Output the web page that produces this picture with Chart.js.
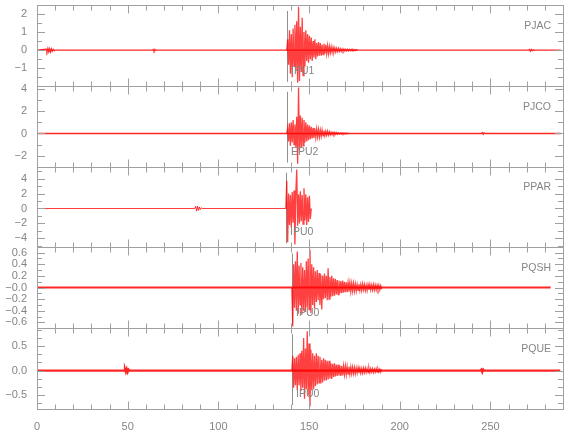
<!DOCTYPE html>
<html>
<head>
<meta charset="utf-8">
<script src="https://cdn.jsdelivr.net/npm/chart.js@4.4.1/dist/chart.umd.min.js"></script>
<style>
  body { margin: 0; background: #fff; }
</style>
</head>
<body>
<canvas id="sismograma" width="580" height="440"></canvas>
<script>
// estações e fases marcadas
const estacoes = ["PJAC", "PJCO", "PPAR", "PQSH", "PQUE"];
const fases = ["IPU1", "EPU2", "IPU0", "IPU0", "IPU0"];
const tempoFase = [137.7, 137.7, 137.2, 140.5, 140.5];

// limites e marcas dos eixos
const xTicks = [0, 50, 100, 150, 200, 250];
const yMin = [-1.97, -2.95, -5.2, -0.7, -0.78];
const yMax = [2.5, 4.25, 5.6, 0.69, 0.86];
const yTicks = [
    [-1, 0, 1, 2],
    [-2, 0, 2, 4],
    [-4, -2, 0, 2, 4],
    [-0.6, -0.4, -0.2, 0, 0.2, 0.4, 0.6],
    [-0.5, 0, 0.5]
];
const yRotulos = [
    ["\u22121", "0", "1", "2"],
    ["\u22122", "0", "2", "4"],
    ["\u22124", "\u22122", "0", "2", "4"],
    ["\u22120.6", "\u22120.4", "\u22120.2", "\u22120.0", "0.2", "0.4", "0.6"],
    ["\u22120.5", "0.0", "0.5"]
];

// trechos calmos (tempo, amplitude)
const pjacCalmoT = [0, 5, 5.5, 6, 6.5, 7, 7.5, 8, 8.5, 9, 9.5, 10, 63.5, 64, 64.5, 65, 65.5, 66, 271, 271.5, 272, 272.5, 273, 273.5, 274, 288.8];
const pjacCalmoV = [0, 0.05, -0.08, 0.1, -0.09, 0.08, -0.1, 0.07, -0.05, 0.04, -0.03, 0, 0, 0.04, -0.05, 0.04, -0.02, 0, 0, 0.04, -0.05, 0.04, -0.03, 0.02, 0, 0];
const pjcoCalmoT = [0, 245, 245.5, 246, 246.5, 247, 288.8];
const pjcoCalmoV = [0, 0, 0.08, -0.07, 0.05, 0, 0];
const pparCalmoT = [0, 87, 87.5, 88, 88.5, 89, 89.5, 90, 90.5, 91, 137.2];
const pparCalmoV = [0, 0, 0.3, -0.35, 0.3, -0.25, 0.2, -0.15, 0.1, 0, 0];
const pqshCalmoT = [0, 283.2];
const pqshCalmoV = [0, 0];
const pqueCalmoT = [0, 48, 48.5, 49, 49.5, 50, 50.5, 51, 244.5, 245, 245.5, 246, 246.5, 288.5];
const pqueCalmoV = [0, 0, 0.03, -0.03, 0.03, -0.03, 0.02, 0, 0, 0.02, -0.03, 0.02, 0, 0];

// evento: amostras a cada 0.5 s a partir da fase
const dtEvento = 0.5;
const pjacEvento = [0.0, 0.6, -0.8, 1.1, -1.3, 0.9, -1.5, 1.2, -0.9, 1.4,
    -1.1, 1.6, -1.8, 2.4, -1.7, 1.3, -1.2, 1.8, -1.4, 1.0,
    -0.9, 1.1, -0.6, 0.9, -0.7, 0.8, -0.5, 0.7, -0.6, 0.5,
    -0.4, 0.6, -0.5, 0.4, -0.35, 0.45, -0.3, 0.4, -0.3, 0.3,
    -0.25, 0.35, -0.2, 0.3, -0.2, 0.25, -0.18, 0.2, -0.15, 0.18,
    -0.12, 0.15, -0.1, 0.12, -0.1, 0.1, -0.08, 0.1, -0.07, 0.08,
    -0.06, 0.07, -0.05, 0.06, -0.05, 0.05, -0.04, 0.05, -0.04, 0.04,
    -0.03, 0.04, -0.03, 0.03, -0.02, 0.03, -0.02, 0.02, 0.0];
const pjcoEvento = [0.0, 0.5, -0.7, 0.9, -1.1, 1.0, -0.8, 1.2, -1.0, 0.8,
    -1.2, 1.5, -2.7, 4.1, -1.5, 1.6, -1.3, 1.4, -1.1, 1.2,
    -0.8, 1.0, -0.7, 0.8, -0.6, 0.7, -0.5, 0.6, -0.45, 0.5,
    -0.4, 0.45, -0.35, 0.4, -0.3, 0.35, -0.3, 0.3, -0.25, 0.3,
    -0.2, 0.25, -0.2, 0.2, -0.15, 0.2, -0.15, 0.15, -0.12, 0.12,
    -0.1, 0.1, -0.08, 0.1, -0.07, 0.08, -0.06, 0.06, -0.05, 0.05,
    -0.04, 0.05, -0.04, 0.04, -0.03, 0.03, -0.02, 0.02, 0.0];
const pparEvento = [0.0, 3.7, -4.5, 2.0, -2.2, 1.8, -2.5, 2.2, -1.9, 2.4,
    -4.8, 2.1, 5.2, -2.3, 1.9, -2.0, 2.3, -1.7, 1.8, -2.1,
    2.7, -1.6, 1.9, -2.2, 1.5, -1.8, 1.7, -1.4, 0.0];
const pqshEvento = [0.0, -0.67, 0.4, -0.35, 0.45, -0.4, 0.62, -0.45, 0.38, -0.3,
    0.42, -0.47, 0.35, -0.4, 0.3, -0.42, 0.45, -0.35, 0.5, -0.38,
    0.65, -0.44, 0.4, -0.3, 0.35, -0.36, 0.28, -0.25, 0.3, -0.22,
    0.25, -0.3, 0.22, -0.38, 0.2, -0.2, 0.24, -0.18, 0.2, -0.22,
    0.33, -0.2, 0.18, -0.16, 0.2, -0.15, 0.16, -0.14, 0.15, -0.12,
    0.13, -0.12, 0.12, -0.1, 0.11, -0.1, 0.12, -0.09, 0.1, -0.08,
    0.09, -0.08, 0.08, -0.07, 0.08, -0.07, 0.07, -0.06, 0.07, -0.06,
    0.06, -0.06, 0.05, -0.05, 0.06, -0.05, 0.05, -0.05, 0.06, -0.04,
    0.05, -0.05, 0.04, -0.05, 0.05, -0.04, 0.05, -0.04, 0.04, -0.04,
    0.05, -0.04, 0.04, -0.04, 0.04, -0.03, 0.04, -0.04, 0.03, -0.03];
const pqueEvento = [0.0, 0.3, -0.35, 0.25, -0.3, 0.28, -0.4, 0.32, -0.3, 0.35,
    -0.42, 0.4, -0.35, 0.66, -0.57, 0.45, -0.38, 0.8, -0.5, 0.55,
    -0.73, 0.42, -0.4, 0.35, -0.38, 0.3, -0.32, 0.35, -0.28, 0.3,
    -0.25, 0.28, -0.26, 0.22, -0.24, 0.25, -0.2, 0.22, -0.2, 0.2,
    -0.18, 0.2, -0.16, 0.15, -0.17, 0.14, -0.13, 0.15, -0.12, 0.12,
    -0.11, 0.12, -0.1, 0.1, -0.11, 0.09, -0.1, 0.09, -0.08, 0.09,
    -0.08, 0.08, -0.07, 0.08, -0.07, 0.07, -0.06, 0.07, -0.06, 0.06,
    -0.06, 0.05, -0.05, 0.06, -0.05, 0.05, -0.05, 0.04, -0.05, 0.05,
    -0.04, 0.05, -0.04, 0.04, -0.04, 0.05, -0.04, 0.04, -0.03, 0.04,
    -0.04, 0.03, -0.03, 0.04, -0.03, 0.03, -0.03, 0.03, -0.03, 0.03];

const calmoT = [pjacCalmoT, pjcoCalmoT, pparCalmoT, pqshCalmoT, pqueCalmoT];
const calmoV = [pjacCalmoV, pjcoCalmoV, pparCalmoV, pqshCalmoV, pqueCalmoV];
const eventos = [pjacEvento, pjcoEvento, pparEvento, pqshEvento, pqueEvento];

// estilo
const familia = "'Liberation Sans', Arial, sans-serif";
const fonte = "10.5px " + familia;
const corTexto = "#858585";
const corEixo = "#a0a0a0";
const espessuraCalmo = [1.3, 1.3, 0.9, 2.2, 2.2];
const passoMenor = [0.5, 1, 1, 0.1, 0.5 / 3];

const conjuntos = [];
estacoes.forEach((nome, i) => {
    conjuntos.push({
        label: nome + " calmo",
        data: calmoT[i].map((t, k) => ({ x: t, y: calmoV[i][k] })),
        yAxisID: "y" + i,
        borderColor: "rgba(255, 0, 0, 0.85)",
        borderWidth: espessuraCalmo[i],
        pointRadius: 0,
        tension: 0
    });
    conjuntos.push({
        label: nome,
        data: eventos[i].map((v, k) => ({ x: tempoFase[i] + k * dtEvento, y: v })),
        yAxisID: "y" + i,
        borderColor: "rgba(255, 0, 0, 0.75)",
        borderWidth: 1.3,
        pointRadius: 0,
        tension: 0
    });
});

const escalas = {
    x: {
        type: "linear",
        min: 0,
        max: 290,
        afterBuildTicks: s => { s.ticks = xTicks.map(v => ({ value: v })); },
        afterFit: s => { s.height = 31; s.paddingLeft = 0; s.paddingRight = 0; },
        grid: { display: false },
        border: { display: false },
        ticks: { color: corTexto, font: { family: familia, size: 11 }, padding: 3, maxRotation: 0, autoSkip: false }
    }
};
// a última escala definida fica no topo da pilha
for (let i = estacoes.length - 1; i >= 0; i--) {
    escalas["y" + i] = {
        type: "linear",
        position: "left",
        stack: "tracos",
        stackWeight: 1,
        min: yMin[i],
        max: yMax[i],
        afterBuildTicks: s => { s.ticks = yTicks[i].map(v => ({ value: v })); },
        afterFit: s => { s.width = 37; s.paddingTop = 0; s.paddingBottom = 0; },
        grid: { display: false },
        border: { display: false },
        ticks: {
            color: corTexto,
            font: { family: familia, size: 11 },
            padding: 2,
            autoSkip: false,
            callback: (v, idx) => yRotulos[i][idx]
        }
    };
}

function linha(ctx, x1, y1, x2, y2) {
    ctx.beginPath();
    ctx.moveTo(x1, y1);
    ctx.lineTo(x2, y2);
    ctx.stroke();
}

const molduraPlugin = {
    id: "moldura",
    beforeDatasetsDraw(chart) {
        const ctx = chart.ctx;
        const x = chart.scales.x;
        ctx.save();
        ctx.lineWidth = 1;
        estacoes.forEach((nome, i) => {
            const y = chart.scales["y" + i];
            const px = Math.round(x.getPixelForValue(tempoFase[i])) + 0.5;
            ctx.strokeStyle = "#909090";
            linha(ctx, px, y.top + 6, px, y.bottom - 4);
        });
        ctx.restore();
    },
    afterDatasetsDraw(chart) {
        const ctx = chart.ctx;
        const x = chart.scales.x;
        const esq = chart.chartArea.left;
        const dir = chart.chartArea.right;
        ctx.save();
        ctx.strokeStyle = corEixo;
        ctx.lineWidth = 1;
        estacoes.forEach((nome, i) => {
            const y = chart.scales["y" + i];
            const topo = Math.round(y.top) + 0.5;
            const base = Math.round(y.bottom) + 0.5;
            ctx.strokeRect(Math.round(esq) + 0.5, topo, Math.round(dir - esq), base - topo);

            // marcas laterais
            const passo = passoMenor[i];
            for (let k = Math.ceil(yMin[i] / passo - 1e-6); k * passo <= yMax[i] + 1e-6; k++) {
                const v = k * passo;
                const maior = yTicks[i].some(t => Math.abs(t - v) < 1e-6);
                const tam = maior ? 8 : 5;
                const py = Math.round(y.getPixelForValue(v)) + 0.5;
                linha(ctx, esq, py, esq + tam, py);
                linha(ctx, dir, py, dir - tam, py);
            }
            // marcas de tempo em cima e embaixo
            for (let t = 0; t <= 290; t += 10) {
                const px = Math.round(x.getPixelForValue(t)) + 0.5;
                const tam = t % 50 === 0 ? 8 : 5;
                linha(ctx, px, topo, px, topo + tam);
                linha(ctx, px, base, px, base - tam);
            }

            ctx.font = fonte;
            ctx.fillStyle = corTexto;
            ctx.textBaseline = "middle";
            ctx.textAlign = "right";
            ctx.fillText(nome, 551, y.top + 21);
            // rótulo da fase
            ctx.textAlign = "left";
            const pf = Math.round(x.getPixelForValue(tempoFase[i]));
            ctx.fillText(fases[i], pf + 4, y.top + 66);
        });
        ctx.restore();
    }
};

const ctx = document.getElementById("sismograma").getContext("2d");
new Chart(ctx, {
    type: "line",
    data: { datasets: conjuntos },
    options: {
        responsive: false,
        animation: false,
        devicePixelRatio: 1,
        layout: { padding: { left: 0, right: 17, top: 5, bottom: 0 } },
        scales: escalas,
        plugins: {
            legend: { display: false },
            tooltip: { enabled: false }
        }
    },
    plugins: [molduraPlugin]
});
</script>
</body>
</html>
